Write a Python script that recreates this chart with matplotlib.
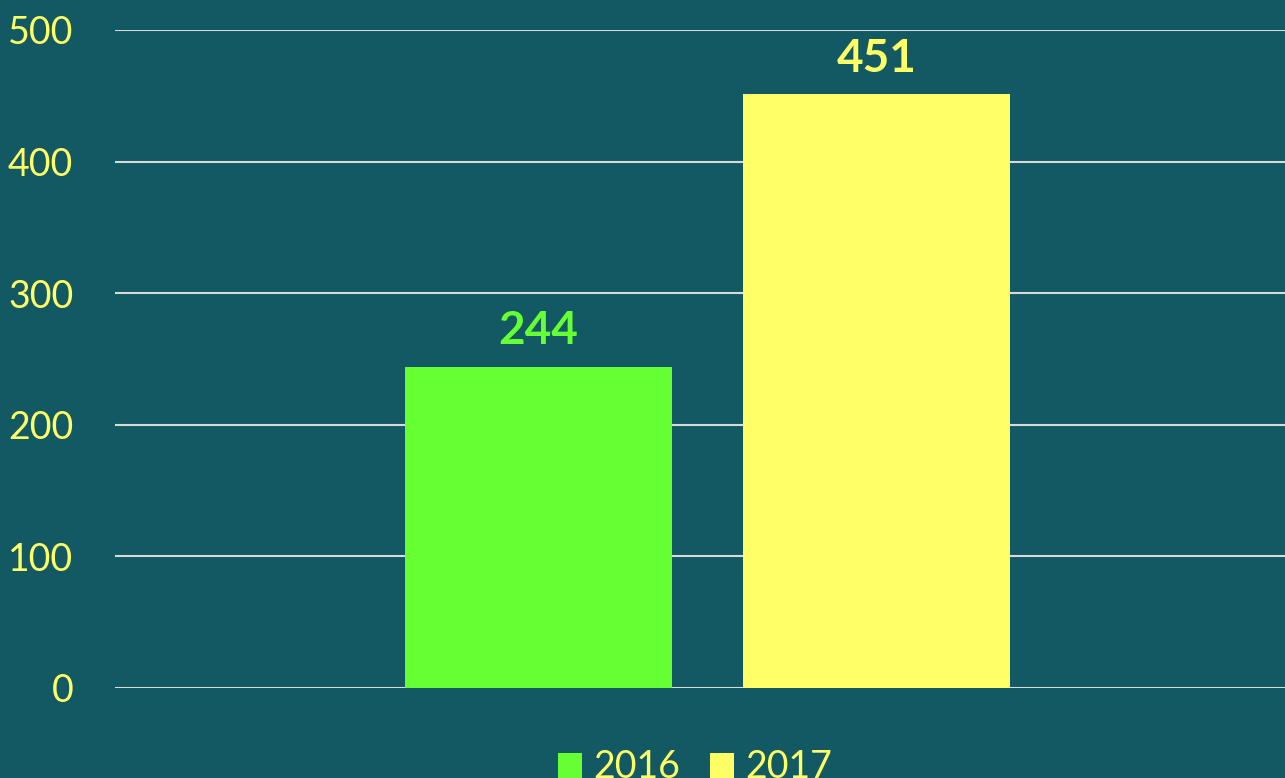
import matplotlib.pyplot as plt
import numpy as np

# ----- Data -----
years = ["2016", "2017"]
values = [244, 451]
colors = ["#66FF33", "#FFFF66"]
yticks = [0, 100, 200, 300, 400, 500]

bg = "#125963"
txt = "#FFFF66"

plt.rcParams['font.family'] = ['Lato', 'DejaVu Sans']

fig = plt.figure(figsize=(12.85, 7.78), dpi=100, facecolor=bg)
ax = fig.add_axes([115/1285, 90/778, 1170/1285, 658/778], facecolor=bg)

# ----- Bars -----
w = 0.228
gap = 0.061
offsets = [-(w + gap) / 2, (w + gap) / 2]
for off, v, c, lab in zip(offsets, values, colors, years):
    ax.bar(off, v, width=w, color=c, label=lab, zorder=3)
    ax.text(off, v + 11, str(v), ha='center', va='bottom', color=c,
            fontsize=33, fontweight='bold')

ax.set_xlim(-0.5064, 0.4936)
ax.set_ylim(0, 500)
ax.set_yticks(yticks)
ax.set_xticks([])
ax.tick_params(axis='y', length=0, colors=txt, labelsize=27, pad=30)
ax.yaxis.grid(True, color="#D9D9D9", linewidth=1.5, zorder=0)
ax.set_axisbelow(True)
for s in ax.spines.values():
    s.set_visible(False)

# ----- Legend -----
leg = fig.legend(loc='lower center', bbox_to_anchor=(695/1285, -0.053), ncol=2,
                 frameon=False, fontsize=27, handlelength=0.65, handleheight=0.65,
                 handletextpad=0.3, columnspacing=0.8)
for t in leg.get_texts():
    t.set_color(txt)

fig.savefig("out.png", dpi=100, facecolor=bg)
